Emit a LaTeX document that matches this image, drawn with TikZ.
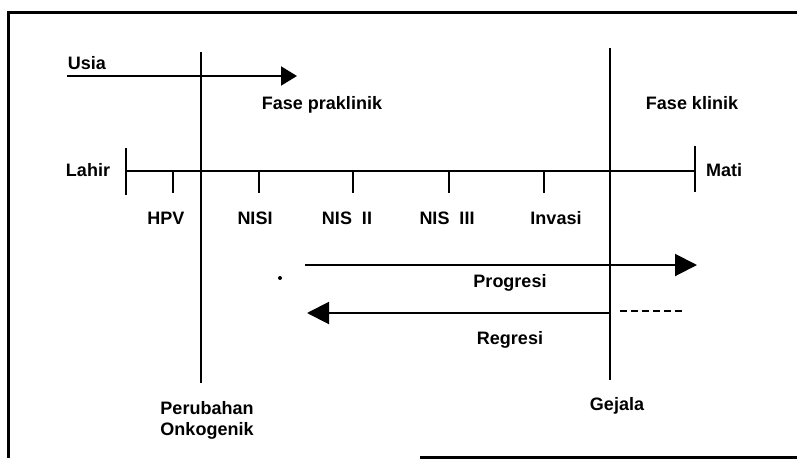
\documentclass[tikz,border=0pt]{standalone}
\usepackage{fontspec}
\setmainfont{Liberation Sans}
\usetikzlibrary{arrows.meta}

\begin{document}
\begin{tikzpicture}[x=1pt, y=-1pt, line width=2pt,
  lbl/.style={font=\fontsize{18}{21}\selectfont\bfseries, inner sep=0pt},
  bigtip/.style={-{Triangle[length=22pt, width=22pt]}}]
\useasboundingbox (0,0) rectangle (797,458);

% Frame
\draw[line width=3pt] (8,458) -- (8,12) -- (797,12);
\draw[line width=3pt] (420,457) -- (797,457);

% Age arrow
\coordinate (usiastart) at (67,76);
\coordinate (usiaend) at (297,76);
\draw[-{Triangle[length=16pt, width=19pt]}] (usiastart) -- (usiaend);
\node[lbl] (usia) at (87,63) {Usia};

% Onkogenik and Gejala lines
\coordinate (onkotop) at (201,52);
\coordinate (onkobot) at (201,383);
\coordinate (gejtop) at (610,48);
\coordinate (gejbot) at (610,380);
\draw[line width=2.5pt] (onkotop) -- (onkobot);
\draw[line width=2.5pt] (gejtop) -- (gejbot);
\node[lbl] (praklinik) at (322,105) {Fase praklinik};
\node[lbl] (klinik) at (692,103) {Fase klinik};

% Timeline
\coordinate (lahir) at (126,171);
\coordinate (mati) at (695,171);
\draw (lahir) -- (mati);
\draw (lahir) ++(0,-23) -- ++(0,47);
\draw (mati) ++(0,-25) -- ++(0,46);
\node[lbl] (lahirtxt) at (88,170) {Lahir};
\node[lbl] (matitxt) at (724,170) {Mati};
\foreach \x/\name/\txt/\lx in {173/hpv/HPV/166, 259/nisa/NISI/255, 353/nisb/NIS~~II/347, 449/nisc/NIS~~III/447, 544/invasi/Invasi/556}{
  \draw (\x,171) -- (\x,193);
  \node[lbl] (\name) at (\lx,218) {\txt};
}

% Progresi and Regresi
\coordinate (progstart) at (305,265);
\coordinate (progend) at (697,265);
\draw[bigtip] (progstart) -- (progend);
\node[lbl] (progresi) at (510,283) {Progresi};
\coordinate (regstart) at (610,313);
\coordinate (regend) at (307,313);
\draw[bigtip] (regstart) -- (regend);
\coordinate (dashstart) at (620,311);
\coordinate (dashend) at (683,311);
\draw[line width=1.5pt, dash pattern=on 7pt off 4pt] (dashstart) -- (dashend);
\node[lbl] (regresi) at (510,340) {Regresi};
\fill (280,278) circle (2pt);

% Bottom labels
\node[lbl, align=center] (onkogenik) at (207,420) {Perubahan\\Onkogenik};
\node[lbl] (gejala) at (617,406) {Gejala};

\end{tikzpicture}
\end{document}
